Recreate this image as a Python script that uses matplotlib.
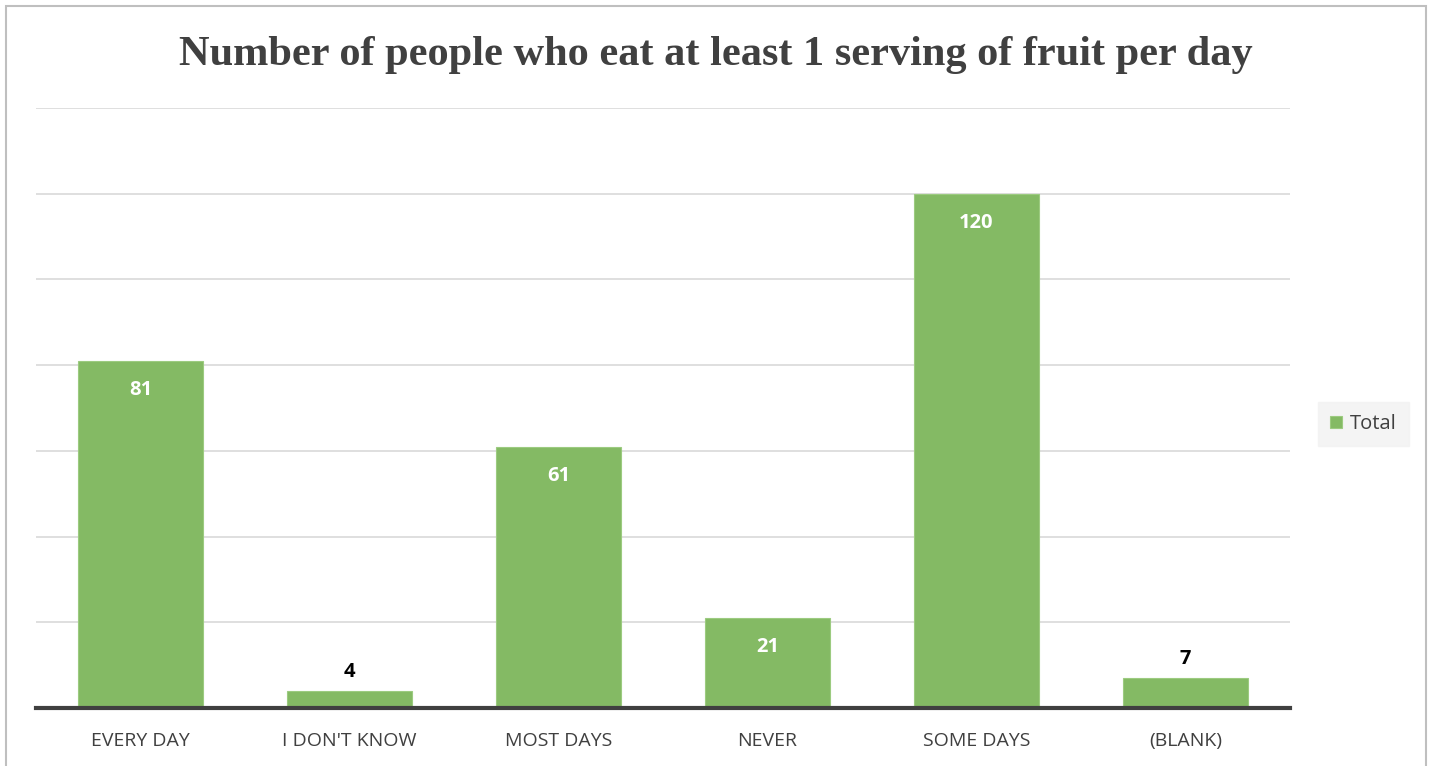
import matplotlib
matplotlib.use("Agg")
import matplotlib.pyplot as plt
from matplotlib.patches import Rectangle

categories = ["EVERY DAY", "I DON'T KNOW", "MOST DAYS", "NEVER", "SOME DAYS", "(BLANK)"]
totals = [81, 4, 61, 21, 120, 7]
series_name = "Total"
title = "Number of people who eat at least 1 serving of fruit per day"

bar_color = "#84BA64"
text_color = "#404040"

fig = plt.figure(figsize=(14.34, 7.66), dpi=100)
W, H = 1434, 766

# outer chart frame
fig.patches.append(Rectangle((6 / W, -0.01), (1426 - 6) / W, (766 - 6) / H + 0.01,
                             transform=fig.transFigure, fill=False,
                             edgecolor="#BFBFBF", linewidth=1.5))

ax = fig.add_axes([36 / W, 1 - 708 / H, (1290 - 36) / W, (708 - 108) / H])
x = range(len(categories))
bars = ax.bar(x, totals, width=0.6, color=bar_color, edgecolor="#9CCB80",
              linewidth=0.8, zorder=3, label=series_name)

ax.set_ylim(0, 140)
ax.set_xlim(-0.5, len(categories) - 0.5)
ax.set_yticks(range(0, 141, 20))
ax.yaxis.grid(True, color="#D9D9D9", linewidth=1.2, zorder=0)
ax.tick_params(axis="y", left=False, labelleft=False)
ax.tick_params(axis="x", length=0, pad=17)
ax.set_xticks(list(x))
ax.set_xticklabels(categories, fontsize=14, color=text_color, family="Open Sans")
for side in ["left", "right", "top"]:
    ax.spines[side].set_visible(False)
ax.spines["bottom"].set_color(text_color)
ax.spines["bottom"].set_linewidth(3)
ax.spines["bottom"].set_zorder(4)

for rect, v in zip(bars, totals):
    cx = rect.get_x() + rect.get_width() / 2
    if v >= 15:
        ax.annotate(str(v), (cx, v), xytext=(0, -21), textcoords="offset points",
                    ha="center", va="center", fontsize=14.5, fontweight="bold",
                    color="white", family="Open Sans", zorder=5)
    else:
        ax.annotate(str(v), (cx, v), xytext=(0, 13.5), textcoords="offset points",
                    ha="center", va="center", fontsize=14.5, fontweight="bold",
                    color="black", family="Open Sans", zorder=5)

fig.text(716 / W, 1 - 55 / H, title, ha="center", va="center",
         fontsize=30.5, fontweight="bold", color=text_color, family="Liberation Serif")

leg = ax.legend(loc="center left", bbox_to_anchor=(1318 / W, 1 - 424 / H),
                bbox_transform=fig.transFigure, frameon=True, fancybox=False,
                handlelength=0.6, handleheight=0.6, handletextpad=0.4,
                borderpad=0.6, borderaxespad=0,
                prop={"family": "Open Sans", "size": 14.5})
leg.get_frame().set_facecolor("#F2F2F2")
leg.get_frame().set_edgecolor("#F2F2F2")
for t in leg.get_texts():
    t.set_color(text_color)

fig.savefig("out.png", dpi=100)
